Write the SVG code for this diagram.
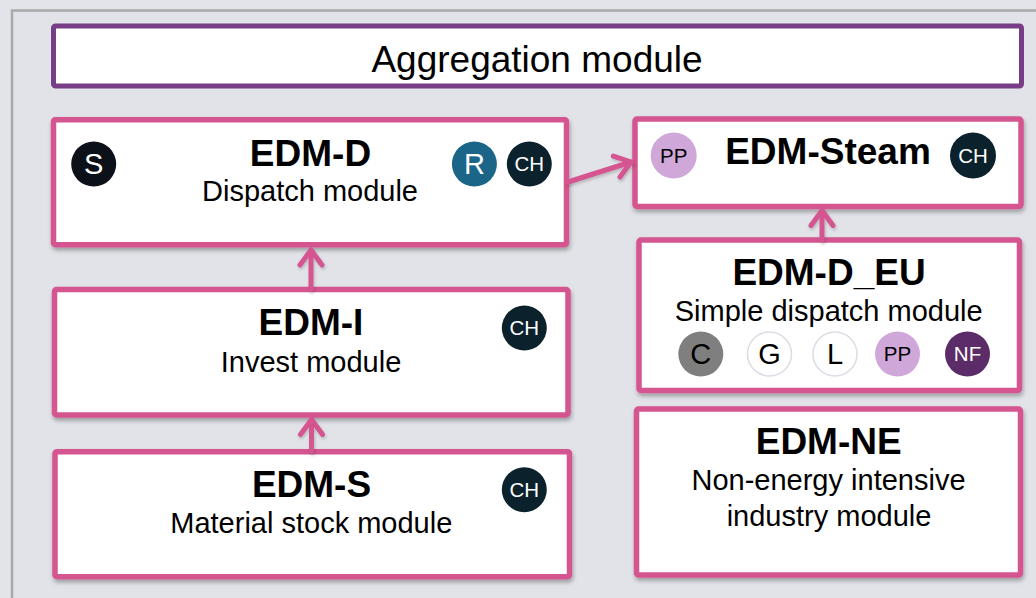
<svg xmlns="http://www.w3.org/2000/svg" width="1036" height="598" viewBox="0 0 1036 598">
  <style>
    text { font-family: "Liberation Sans", Arial, sans-serif; text-anchor: middle; }
    .title { font-size: 37px; font-weight: bold; fill: #000; }
    .sub { font-size: 29px; fill: #000; }
    .agg { font-size: 37px; fill: #000; }
    .box { fill: #fff; stroke: #d4548f; stroke-width: 5.5; filter: url(#shadow); }
    .badge-lg { font-size: 29px; }
    .badge-sm { font-size: 20.5px; }
    .wt { fill: #fff; }
    .bk { fill: #000; }
    .conn { stroke: #d4548f; stroke-width: 5; fill: none; stroke-linecap: round; marker-end: url(#chevron); }
  </style>
  <defs>
    <filter id="shadow" x="-10%" y="-10%" width="120%" height="130%">
      <feDropShadow dx="1" dy="3" stdDeviation="2" flood-color="#000" flood-opacity="0.3"/>
    </filter>
    <filter id="lineShadow" x="-20%" y="-20%" width="140%" height="140%">
      <feDropShadow dx="1" dy="2" stdDeviation="1.5" flood-color="#000" flood-opacity="0.2"/>
    </filter>
    <marker id="chevron" markerUnits="userSpaceOnUse" viewBox="-22 -16 26 32" markerWidth="26" markerHeight="32" refX="0" refY="0" orient="auto" overflow="visible">
      <path d="M -15 -11 L 0 0 L -15 11" fill="none" stroke="#d4548f" stroke-width="5" stroke-linecap="round" stroke-linejoin="round"/>
    </marker>
  </defs>

  <!-- page background and frame -->
  <rect x="0" y="0" width="1036" height="598" fill="#e2e4e9"/>
  <rect x="12" y="10.5" width="1100" height="700" fill="#e1e3e8" stroke="#a9a9a9" stroke-width="2.5"/>

  <!-- aggregation layer -->
  <g id="aggregation">
    <rect x="53.5" y="26" width="968" height="60" rx="2" fill="#fff" stroke="#773e87" stroke-width="5"/>
    <text class="agg" x="537" y="72">Aggregation module</text>
  </g>

  <!-- dispatch module -->
  <g id="edm-d">
    <rect class="box" x="53.5" y="119.7" width="513" height="125" rx="2"/>
    <text class="title" x="310.5" y="166">EDM-D</text>
    <text class="sub" x="310" y="201">Dispatch module</text>
    <circle cx="93.7" cy="164" r="22.5" fill="#0c1119"/>
    <text class="badge-lg wt" x="93.7" y="174.4">S</text>
    <circle cx="474.4" cy="164" r="22.5" fill="#1b6589"/>
    <text class="badge-lg wt" x="474.4" y="174.4">R</text>
    <circle cx="529.3" cy="164" r="22.5" fill="#0b222d"/>
    <text class="badge-sm wt" x="529.3" y="171.4">CH</text>
  </g>

  <!-- invest module -->
  <g id="edm-i">
    <rect class="box" x="54.5" y="289.5" width="513.5" height="125.5" rx="2"/>
    <text class="title" x="311" y="335">EDM-I</text>
    <text class="sub" x="311" y="371.7">Invest module</text>
    <circle cx="524.3" cy="328" r="22.5" fill="#0b222d"/>
    <text class="badge-sm wt" x="524.3" y="335.4">CH</text>
  </g>

  <!-- material stock module -->
  <g id="edm-s">
    <rect class="box" x="55" y="451.7" width="514.5" height="125" rx="2"/>
    <text class="title" x="311.5" y="496.7">EDM-S</text>
    <text class="sub" x="311.3" y="533">Material stock module</text>
    <circle cx="524.3" cy="489.7" r="22.5" fill="#0b222d"/>
    <text class="badge-sm wt" x="524.3" y="497.1">CH</text>
  </g>

  <!-- steam module -->
  <g id="edm-steam">
    <rect class="box" x="635" y="119" width="386" height="87.5" rx="2"/>
    <text class="title" x="828" y="164.3">EDM-Steam</text>
    <circle cx="673.7" cy="155.5" r="23" fill="#cfa7d9"/>
    <text class="badge-sm bk" x="673.7" y="162.9">PP</text>
    <circle cx="973" cy="155.5" r="23" fill="#0b222d"/>
    <text class="badge-sm wt" x="973" y="162.9">CH</text>
  </g>

  <!-- simple dispatch module -->
  <g id="edm-d-eu">
    <rect class="box" x="639" y="240" width="380.5" height="150.5" rx="2"/>
    <text class="title" x="829" y="285">EDM-D_EU</text>
    <text class="sub" x="828.7" y="321">Simple dispatch module</text>
    <circle cx="700.8" cy="354" r="22.5" fill="#7f7f7f"/>
    <text class="badge-lg bk" x="700.8" y="364.4">C</text>
    <circle cx="769.5" cy="354" r="22" fill="#fff" stroke="#dcdce6" stroke-width="1.5"/>
    <text class="badge-lg bk" x="769.5" y="364.4">G</text>
    <circle cx="835" cy="354" r="22" fill="#fff" stroke="#dcdce6" stroke-width="1.5"/>
    <text class="badge-lg bk" x="835" y="364.4">L</text>
    <circle cx="897.5" cy="354" r="22.5" fill="#cfa7d9"/>
    <text class="badge-sm bk" x="897.5" y="361.4">PP</text>
    <circle cx="967.5" cy="354" r="22.5" fill="#5c2c69"/>
    <text class="badge-sm wt" x="967.5" y="361.4">NF</text>
  </g>

  <!-- non-energy intensive industry module -->
  <g id="edm-ne">
    <rect class="box" x="636.5" y="409" width="384" height="166" rx="2"/>
    <text class="title" x="828.7" y="454">EDM-NE</text>
    <text class="sub" x="828.5" y="490">Non-energy intensive</text>
    <text class="sub" x="829" y="526">industry module</text>
  </g>

  <!-- data flow between modules -->
  <g id="connectors" filter="url(#lineShadow)">
    <line class="conn" x1="311" y1="289" x2="311" y2="250"/>
    <line class="conn" x1="311.5" y1="451" x2="311.5" y2="419.5"/>
    <line class="conn" x1="822" y1="240" x2="822" y2="210.5"/>
    <line class="conn" x1="568" y1="182" x2="631" y2="162"/>
  </g>
</svg>
